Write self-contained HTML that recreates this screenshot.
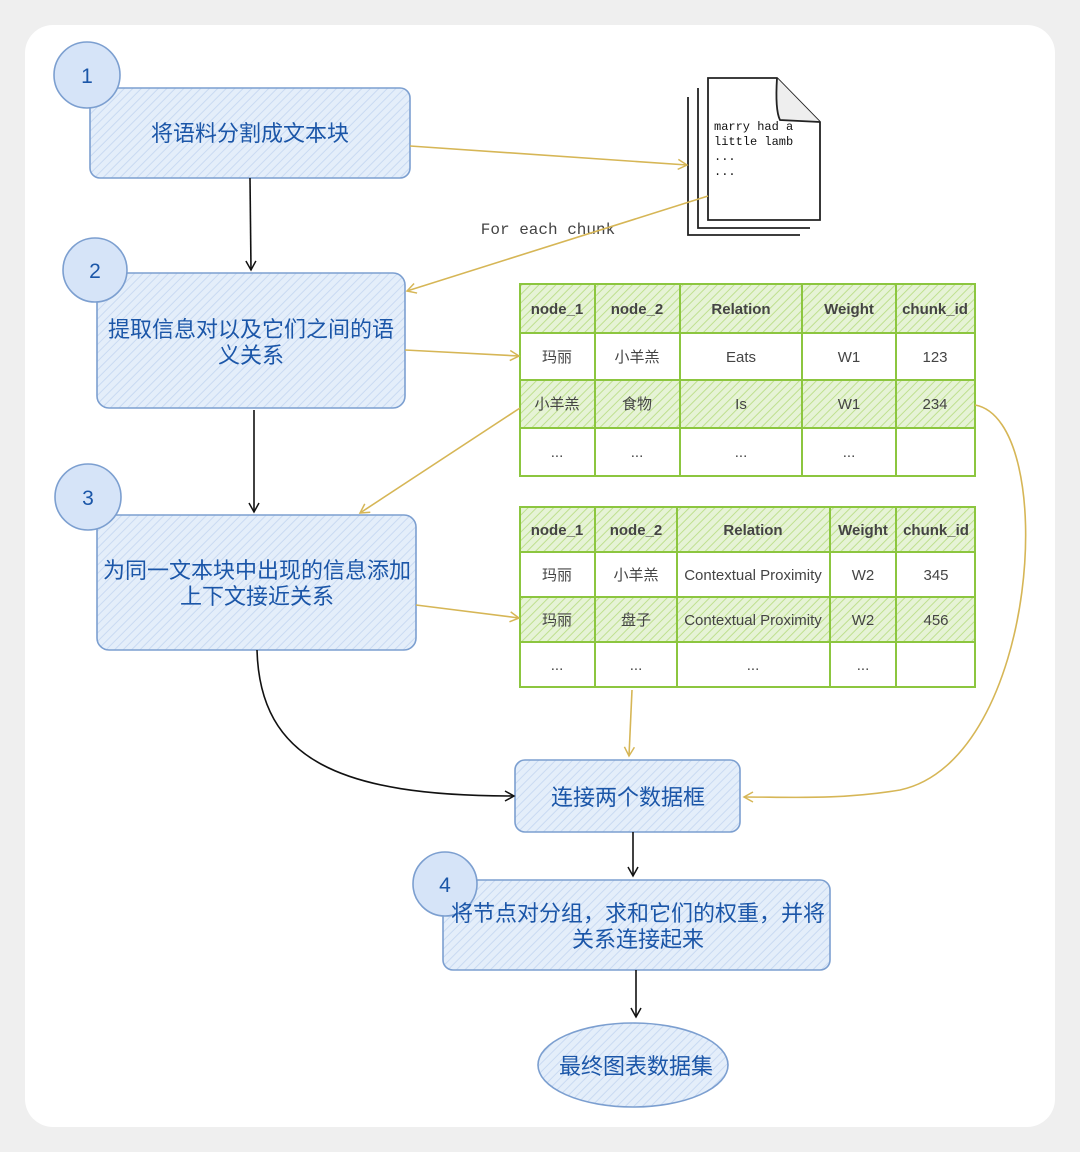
<!DOCTYPE html>
<html><head><meta charset="utf-8"><style>
html,body{margin:0;padding:0;background:#efefef;}
svg{display:block}
text{font-family:"Liberation Sans","Noto Sans CJK SC",sans-serif;}
</style></head><body>
<svg width="1080" height="1152" viewBox="0 0 1080 1152" xmlns="http://www.w3.org/2000/svg">
<defs>
<pattern id="hb" width="6" height="6" patternUnits="userSpaceOnUse" patternTransform="rotate(45)"><rect width="6" height="6" fill="#e4eefa"/><line x1="0" y1="0" x2="0" y2="6" stroke="#c9daf2" stroke-width="2"/></pattern>
<pattern id="hg" width="6" height="6" patternUnits="userSpaceOnUse" patternTransform="rotate(45)"><rect width="6" height="6" fill="#e6f3d6"/><line x1="0" y1="0" x2="0" y2="6" stroke="#bfe08f" stroke-width="2"/></pattern>
<marker id="ak" markerWidth="12" markerHeight="12" refX="10" refY="6" orient="auto" markerUnits="userSpaceOnUse"><path d="M1,1 L10,6 L1,11" fill="none" stroke="#111" stroke-width="1.5"/></marker>
<marker id="ag" markerWidth="12" markerHeight="12" refX="10" refY="6" orient="auto" markerUnits="userSpaceOnUse"><path d="M1,1 L10,6 L1,11" fill="none" stroke="#d6b656" stroke-width="1.5"/></marker>
</defs>
<rect x="25" y="25" width="1030" height="1102" rx="28" fill="#fff"/>

<g stroke="#7c9fd0" stroke-width="1.6" fill="url(#hb)">
<rect x="90" y="88" width="320" height="90" rx="10"/>
<rect x="97" y="273" width="308" height="135" rx="12"/>
<rect x="97" y="515" width="319" height="135" rx="12"/>
<rect x="515" y="760" width="225" height="72" rx="10"/>
<rect x="443" y="880" width="387" height="90" rx="10"/>
<ellipse cx="633" cy="1065" rx="95" ry="42"/>
</g>
<g stroke="#7c9fd0" stroke-width="1.6" fill="#d6e4f8">
<circle cx="87" cy="75" r="33"/><circle cx="95" cy="270" r="32"/><circle cx="88" cy="497" r="33"/><circle cx="445" cy="884" r="32"/>
</g>
<g fill="#1b56a8" font-size="21" text-anchor="middle">
<text x="87" y="83">1</text><text x="95" y="278">2</text><text x="88" y="505">3</text><text x="445" y="892">4</text>
</g>
<g fill="#1b56a8" font-size="22" text-anchor="middle">
<text x="250" y="141">将语料分割成文本块</text>
<text x="251" y="337">提取信息对以及它们之间的语</text><text x="251" y="363">义关系</text>
<text x="257" y="578">为同一文本块中出现的信息添加</text><text x="257" y="604">上下文接近关系</text>
<text x="628" y="805">连接两个数据框</text>
<text x="638" y="921">将节点对分组，求和它们的权重，并将</text><text x="638" y="947">关系连接起来</text>
<text x="636" y="1074">最终图表数据集</text>
</g>

<g stroke="#222" stroke-width="1.8" fill="#fff">
<path d="M688,97 L688,235 L800,235"/>
<path d="M698,88 L698,228 L810,228"/>
<path d="M708,78 L777,78 L820,122 L820,220 L708,220 Z"/>
<path d="M777,78 Q775,110 780,120 L820,122" fill="#eee"/>
</g>
<g font-size="12" fill="#111">
<text x="714" y="130" style="font-family:'Liberation Mono',monospace">marry had a</text>
<text x="714" y="145" style="font-family:'Liberation Mono',monospace">little lamb</text>
<text x="714" y="160" style="font-family:'Liberation Mono',monospace">...</text>
<text x="714" y="175" style="font-family:'Liberation Mono',monospace">...</text>
</g>
<text x="548" y="234" font-size="16" fill="#444" text-anchor="middle" style="font-family:'Liberation Mono',monospace">For each chunk</text>

<g stroke="#8cc63f" stroke-width="2">
<rect x="520" y="284" width="455" height="49" fill="url(#hg)"/>
<rect x="520" y="333" width="455" height="47" fill="#fff"/>
<rect x="520" y="380" width="455" height="48" fill="url(#hg)"/>
<rect x="520" y="428" width="455" height="48" fill="#fff"/>
<path d="M595,284V476M680,284V476M802,284V476M896,284V476"/>
<rect x="520" y="507" width="455" height="45" fill="url(#hg)"/>
<rect x="520" y="552" width="455" height="45" fill="#fff"/>
<rect x="520" y="597" width="455" height="45" fill="url(#hg)"/>
<rect x="520" y="642" width="455" height="45" fill="#fff"/>
<path d="M595,507V687M677,507V687M830,507V687M896,507V687"/>
</g>
<g font-size="15" fill="#444" text-anchor="middle">
<g font-weight="bold"><text x="557" y="314">node_1</text><text x="637" y="314">node_2</text><text x="741" y="314">Relation</text><text x="849" y="314">Weight</text><text x="935" y="314">chunk_id</text></g>
<text x="557" y="362">玛丽</text><text x="637" y="362">小羊羔</text><text x="741" y="362">Eats</text><text x="849" y="362">W1</text><text x="935" y="362">123</text>
<text x="557" y="409">小羊羔</text><text x="637" y="409">食物</text><text x="741" y="409">Is</text><text x="849" y="409">W1</text><text x="935" y="409">234</text>
<text x="557" y="457">...</text><text x="637" y="457">...</text><text x="741" y="457">...</text><text x="849" y="457">...</text>
<g font-weight="bold"><text x="557" y="535">node_1</text><text x="636" y="535">node_2</text><text x="753" y="535">Relation</text><text x="863" y="535">Weight</text><text x="936" y="535">chunk_id</text></g>
<text x="557" y="580">玛丽</text><text x="636" y="580">小羊羔</text><text x="753" y="580">Contextual  Proximity</text><text x="863" y="580">W2</text><text x="936" y="580">345</text>
<text x="557" y="625">玛丽</text><text x="636" y="625">盘子</text><text x="753" y="625">Contextual Proximity</text><text x="863" y="625">W2</text><text x="936" y="625">456</text>
<text x="557" y="670">...</text><text x="636" y="670">...</text><text x="753" y="670">...</text><text x="863" y="670">...</text>
</g>

<g fill="none" stroke="#111" stroke-width="1.6">
<path d="M250,178 L251,270" marker-end="url(#ak)"/>
<path d="M254,410 L254,512" marker-end="url(#ak)"/>
<path d="M257,650 C260,760 340,796 514,796" marker-end="url(#ak)"/>
<path d="M633,832 L633,876" marker-end="url(#ak)"/>
<path d="M636,970 L636,1017" marker-end="url(#ak)"/>
</g>
<g fill="none" stroke="#d6b656" stroke-width="1.6">
<path d="M410,146 L687,165" marker-end="url(#ag)"/>
<path d="M708,196 L407,291" marker-end="url(#ag)"/>
<path d="M405,350 L519,356" marker-end="url(#ag)"/>
<path d="M520,408 L360,513" marker-end="url(#ag)"/>
<path d="M416,605 L519,618" marker-end="url(#ag)"/>
<path d="M632,690 L629,756" marker-end="url(#ag)"/>
<path d="M975,405 C1060,420 1040,760 900,790 C840,800 790,797 744,797" marker-end="url(#ag)"/>
</g>
</svg>
</body></html>
